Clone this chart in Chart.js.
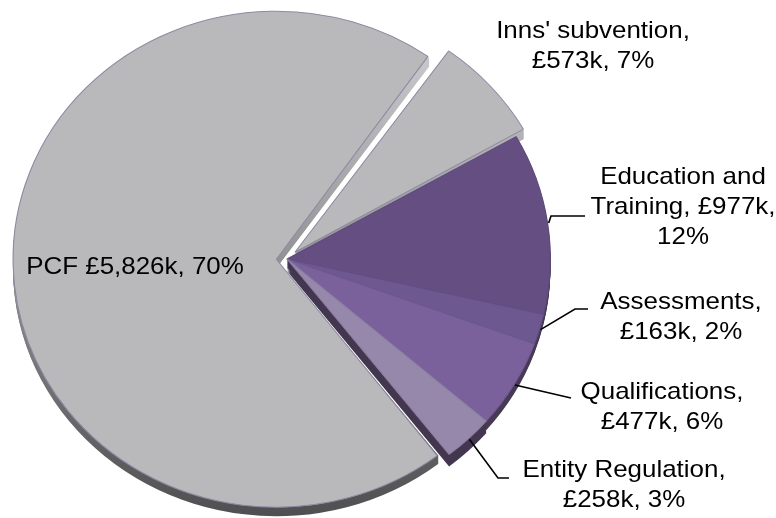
<!DOCTYPE html>
<html>
<head>
<meta charset="utf-8">
<script src="https://cdn.jsdelivr.net/npm/chart.js@4.4.0/dist/chart.umd.min.js"></script>
<style>
  html, body { margin: 0; padding: 0; background: #fff; }
  #wrap { width: 776px; height: 518px; position: relative; }
</style>
</head>
<body>
<div id="wrap"><canvas id="chart"></canvas></div>
<script>
// slices, clockwise from the top-right
const categories = ["Inns' subvention", 'Education and Training', 'Assessments', 'Qualifications', 'Entity Regulation', 'PCF'];
const valuesK = [573, 977, 163, 477, 258, 5826];
const percents = [7, 12, 2, 6, 3, 70];

const sliceColors = ['#b9b9bb', '#654f82', '#6e5890', '#7a619b', '#9688aa', '#b9b9bb'];
const borderColors = ['#8f89a3', '#5d4a78', '#654f86', '#705991', '#8c7ea2', '#8f89a3'];
const depthColors = ['grey', '#463a55', '#463a55', '#463a55', '#433750', 'grey'];
const depths = [9, 9, 9, 9, 12, 9];         // thickness of the 3d edge
const sliceOffsets = [40, 0, 0, 0, 0, 40]; // chart.js v4 moves the arc by offset / 4

const money = i => '£' + valuesK[i].toLocaleString('en-GB') + 'k';
const labelLines = [
    [categories[0] + ',', `${money(0)}, ${percents[0]}%`],
    ['Education and', `Training, ${money(1)},`, `${percents[1]}%`],
    [categories[2] + ',', `${money(2)}, ${percents[2]}%`],
    [categories[3] + ',', `${money(3)}, ${percents[3]}%`],
    [categories[4] + ',', `${money(4)}, ${percents[4]}%`],
    [`${categories[5]} ${money(5)}, ${percents[5]}%`]
];

// label placement (centre of first line) and leader line bends
const labelLayout = [
    { x: 593, y: 31, leader: null },
    { x: 683, y: 177, leader: [[551, 216], [585, 216]] },
    { x: 681, y: 302, leader: [[575, 309], [588, 309]] },
    { x: 662, y: 392, leader: [[571, 398]] },
    { x: 624, y: 470, leader: [[498, 478], [509, 478]] },
    { x: 135, y: 267, leader: null }
];

const SX = 1.062;      // the pie is a little wider than tall
const TEXT_SX = 1.08;
const LINE_H = 30;

function arcGeom(arc) {
    const off = (arc.options.offset || 0) / 4;
    const mid = (arc.startAngle + arc.endAngle) / 2;
    const fix = 1 - Math.sin(Math.min(Math.PI, arc.circumference));
    return {
        ox: arc.x + Math.cos(mid) * off,
        oy: arc.y + Math.sin(mid) * off,
        r: arc.outerRadius + off * fix,
        mid: mid
    };
}

const pie3d = {
    id: 'pie3d',
    afterDatasetUpdate(chart) {
        // keep exploded slices at the same radius as the others
        chart.getDatasetMeta(0).data.forEach(arc => {
            const off = (arc.options.offset || 0) / 4;
            const fix = 1 - Math.sin(Math.min(Math.PI, arc.circumference));
            arc.outerRadius -= off * fix;
        });
    },
    beforeDatasetsDraw(chart) {
        const ctx = chart.ctx;
        const arcs = chart.getDatasetMeta(0).data;
        const cx = arcs[0].x, cy = arcs[0].y;
        ctx.save();
        ctx.translate(cx, cy);
        ctx.scale(SX, 1);
        ctx.translate(-cx, -cy);

        const grey = ctx.createLinearGradient(0, cy - 250, 0, cy + 258);
        grey.addColorStop(0, '#d4d4d8');
        grey.addColorStop(1, '#4f4f51');

        arcs.forEach((arc, i) => {
            const g = arcGeom(arc);
            ctx.fillStyle = depthColors[i] === 'grey' ? grey : depthColors[i];
            for (let d = 1; d <= depths[i]; d++) {
                ctx.beginPath();
                ctx.moveTo(g.ox, g.oy + d);
                ctx.arc(g.ox, g.oy + d, g.r, arc.startAngle, arc.endAngle);
                ctx.closePath();
                ctx.fill();
            }
        });
    },
    afterDatasetsDraw(chart) {
        const ctx = chart.ctx;
        ctx.restore();

        const arcs = chart.getDatasetMeta(0).data;
        const cx = arcs[0].x;

        // leader lines
        ctx.save();
        ctx.strokeStyle = '#000';
        ctx.lineWidth = 1.6;
        arcs.forEach((arc, i) => {
            const L = labelLayout[i];
            if (!L.leader) return;
            const g = arcGeom(arc);
            const sx = cx + (g.ox - cx + Math.cos(g.mid) * (g.r + 1)) * SX;
            const sy = g.oy + Math.sin(g.mid) * (g.r + 1);
            ctx.beginPath();
            ctx.moveTo(sx, sy);
            L.leader.forEach(p => ctx.lineTo(p[0], p[1]));
            ctx.stroke();
        });
        ctx.restore();

        // labels
        ctx.save();
        ctx.font = '24px "Liberation Sans", Arial, sans-serif';
        ctx.fillStyle = '#000';
        ctx.textAlign = 'center';
        ctx.textBaseline = 'middle';
        labelLines.forEach((lines, i) => {
            const L = labelLayout[i];
            lines.forEach((t, j) => {
                ctx.save();
                ctx.translate(L.x, L.y + j * LINE_H);
                ctx.scale(TEXT_SX, 1);
                ctx.fillText(t, 0, 0);
                ctx.restore();
            });
        });
        ctx.restore();
    }
};

new Chart(document.getElementById('chart').getContext('2d'), {
    type: 'pie',
    data: {
        labels: categories,
        datasets: [{
            data: valuesK,
            backgroundColor: sliceColors,
            borderColor: borderColors,
            borderWidth: 1,
            offset: sliceOffsets,
            radius: 248,
            clip: false
        }]
    },
    options: {
        responsive: true,
        maintainAspectRatio: false,
        animation: false,
        events: [],
        rotation: 35.5,
        layout: { padding: { left: 0, right: 202, top: 0, bottom: 0 } },
        plugins: {
            legend: { display: false },
            tooltip: { enabled: false }
        }
    },
    plugins: [pie3d]
});
</script>
</body>
</html>
